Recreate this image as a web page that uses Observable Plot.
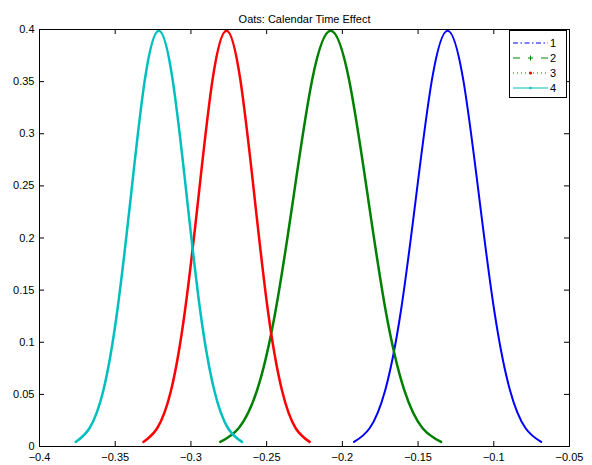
<!DOCTYPE html>
<html>
<head>
<meta charset="utf-8">
<script src="https://cdn.jsdelivr.net/npm/d3@7"></script>
<script src="https://cdn.jsdelivr.net/npm/@observablehq/plot@0.6"></script>
<style>
  html, body { margin: 0; padding: 0; background: #fff; }
</style>
</head>
<body>
<div id="chart"></div>
<script>
// ---- data ----
const titleText = "Oats: Calendar Time Effect";
const seriesNames = ["1", "2", "3", "4"];
const seriesColors = ["#0000ff", "#008000", "#ff0000", "#00bfbf"];
const xTicks = [-0.4, -0.35, -0.3, -0.25, -0.2, -0.15, -0.1, -0.05];
const yTicks = [0, 0.05, 0.1, 0.15, 0.2, 0.25, 0.3, 0.35, 0.4];

// density heights along each curve (same bell shape for all four)
const density = [0.0044, 0.0175, 0.0540, 0.1295, 0.2420, 0.3521, 0.3989, 0.3521, 0.2420, 0.1295, 0.0540, 0.0175, 0.0044];
const x1 = [-0.1923, -0.1820, -0.1717, -0.1614, -0.1511, -0.1408, -0.1305, -0.1202, -0.1099, -0.0996, -0.0893, -0.0790, -0.0687];
const x2 = [-0.2806, -0.2685, -0.2563, -0.2442, -0.2320, -0.2199, -0.2077, -0.1956, -0.1834, -0.1713, -0.1591, -0.1470, -0.1348];
const x3 = [-0.3314, -0.3223, -0.3131, -0.3040, -0.2948, -0.2857, -0.2765, -0.2674, -0.2582, -0.2491, -0.2399, -0.2308, -0.2216];
const x4 = [-0.3761, -0.3670, -0.3578, -0.3487, -0.3395, -0.3304, -0.3212, -0.3121, -0.3029, -0.2938, -0.2846, -0.2755, -0.2663];

// ---- build tables ----
const xs = [x1, x2, x3, x4];
const rows = [];
xs.forEach((arr, i) => arr.forEach((x, j) => rows.push({series: seriesNames[i], x, y: density[j]})));

const W = 592, H = 465;
const mT = 29, mB = 19, mL = 39, mR = 23;
const fw = W - mL - mR, fh = H - mT - mB;
const tick = 5;
const fmt = d => String(d).replace("-", "\u2212");
const widths = [2, 2.5, 2.5, 2.5];

const svg = Plot.plot({
  width: W,
  height: H,
  marginTop: mT, marginBottom: mB, marginLeft: mL, marginRight: mR,
  x: {domain: [-0.4, -0.05]},
  y: {domain: [0, 0.4]},
  style: {fontFamily: "'Liberation Sans', Arial, sans-serif", fontSize: "11px", background: "#fff", color: "#000", overflow: "visible"},
  marks: [
    ...seriesNames.map((s, i) => Plot.line(rows.filter(r => r.series === s), {
      x: "x", y: "y", stroke: seriesColors[i], strokeWidth: widths[i], curve: "natural"
    })),
    Plot.ruleX(xTicks, {x: d => d, insetTop: fh - tick, stroke: "#000", strokeOpacity: 1}),
    Plot.ruleX(xTicks, {x: d => d, insetBottom: fh - tick, stroke: "#000", strokeOpacity: 1}),
    Plot.ruleY(yTicks, {y: d => d, insetRight: fw - tick, stroke: "#000", strokeOpacity: 1}),
    Plot.ruleY(yTicks, {y: d => d, insetLeft: fw - tick, stroke: "#000", strokeOpacity: 1}),
    Plot.frame({stroke: "#000", strokeOpacity: 1}),
    Plot.axisX(xTicks, {tickSize: 0, tickPadding: 7, tickFormat: fmt, label: null, fontSize: 11}),
    Plot.axisY(yTicks, {tickSize: 0, tickPadding: 5, tickFormat: fmt, label: null, fontSize: 11}),
    Plot.text([titleText], {text: d => d, frameAnchor: "top", dy: -14, fontSize: 11})
  ]
});

// ---- legend (MATLAB style box, top-right inside the axes) ----
const g = d3.select(svg).append("g");
const lx = 509, ly = 30, lw = 57, lh = 67;
g.append("rect").attr("x", lx + 0.5).attr("y", ly + 0.5).attr("width", lw).attr("height", lh)
  .attr("fill", "#fff").attr("stroke", "#000").attr("stroke-width", 1);
const rowY = [43, 58, 73, 88];
const dashes = ["5,2.5,1.5,2.5", "7,21,7", "1,3", null];
seriesNames.forEach((s, i) => {
  const y = rowY[i];
  const line = g.append("line").attr("x1", 513).attr("x2", 548).attr("y1", y).attr("y2", y)
    .attr("stroke", seriesColors[i]).attr("stroke-width", 1);
  if (dashes[i]) line.attr("stroke-dasharray", dashes[i]);
  const cx = 530.5;
  if (i === 1) {
    g.append("path").attr("d", `M${cx - 2.5},${y}H${cx + 2.5}M${cx},${y - 2.5}V${y + 2.5}`)
      .attr("stroke", seriesColors[i]).attr("stroke-width", 1);
  } else if (i === 2) {
    g.append("circle").attr("cx", cx).attr("cy", y).attr("r", 1.6).attr("fill", seriesColors[i]);
  } else if (i === 3) {
    g.append("circle").attr("cx", cx).attr("cy", y).attr("r", 1.2).attr("fill", seriesColors[i]);
  }
  g.append("text").attr("x", 553).attr("y", y).attr("dy", "0.35em")
    .attr("font-size", 11).attr("fill", "#000").text(s);
});

document.getElementById("chart").appendChild(svg);
</script>
</body>
</html>
